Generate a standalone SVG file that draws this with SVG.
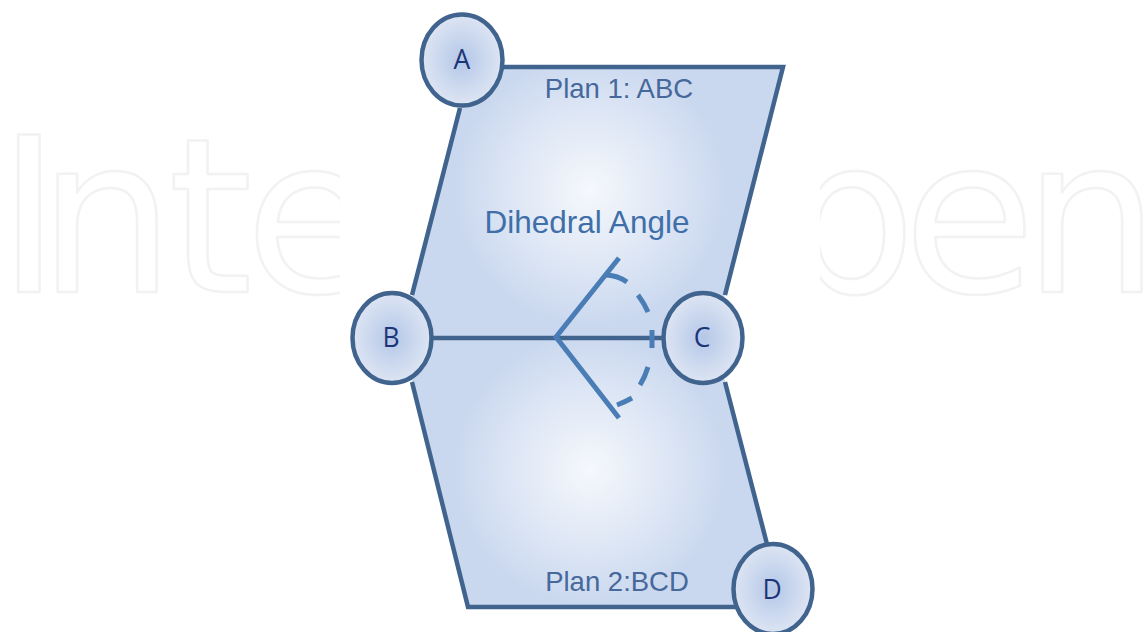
<svg xmlns="http://www.w3.org/2000/svg" width="1143" height="632" viewBox="0 0 1143 632">
<style>
.wm{font-family:"DejaVu Sans",sans-serif;font-size:216px;fill:#fff;stroke:#f2f2f2;stroke-width:2.500;stroke-linejoin:round}
.plane{stroke:none}
.edge{fill:none;stroke:#41648f;stroke-width:4.500;stroke-linejoin:miter}
.angle{fill:none;stroke:#4a7db5;stroke-width:5}
.node{fill:url(#nodeFill);stroke:#41648f;stroke-width:4.500}
.nl{font-family:"Open Sans","Noto Sans",sans-serif;font-size:26.500px;fill:#1c3578;text-anchor:middle}
.pl{font-family:"Liberation Sans",Arial,sans-serif;font-size:27.500px;fill:#46689a;text-anchor:middle}
</style>
<defs>
<radialGradient id="planeTop" gradientUnits="userSpaceOnUse" cx="590" cy="190" r="135">
<stop offset="0" stop-color="#f5f8fc"/><stop offset="0.5" stop-color="#e1e9f6"/><stop offset="1" stop-color="#cad8ef"/>
</radialGradient>
<radialGradient id="planeBot" gradientUnits="userSpaceOnUse" cx="590" cy="470" r="135">
<stop offset="0" stop-color="#f5f8fc"/><stop offset="0.5" stop-color="#e1e9f6"/><stop offset="1" stop-color="#cad8ef"/>
</radialGradient>
<radialGradient id="nodeFill">
<stop offset="0" stop-color="#b4c7e8"/><stop offset="1" stop-color="#dde5f3"/>
</radialGradient>
<clipPath id="wmL"><rect x="0" y="100" width="340" height="260"/></clipPath>
<clipPath id="wmR"><rect x="820" y="100" width="323" height="260"/></clipPath>
</defs>
<g id="watermark">
<text class="wm" clip-path="url(#wmL)" x="-3 38 168 245" y="292">Inte</text>
<text class="wm" clip-path="url(#wmR)" x="779 903 1023" y="292">pen</text>
</g>
<g id="planes">
<path class="plane" fill="url(#planeTop)" d="M470,67H783L714,338H401Z"/>
<path class="plane" fill="url(#planeBot)" d="M401,338H714L783,607H468Z"/>
<path class="edge" d="M412,295L460,108M470,67H783L725,295M725,382L768,548M412,382L468,607H745"/>
</g>
<g id="connectors">
<path class="edge" d="M432,338H663"/>
<path class="angle" d="M619,258L556,337L619,418"/>
<path class="angle" d="M605,275Q617,275 627,282M638,295Q644,303 648,312M652,330V348M648,367Q645,377 640,385M632,398Q625,402 617,405"/>
</g>
<g id="node-A"><ellipse class="node" cx="462" cy="60" rx="40.500" ry="45.500"/><text class="nl" x="462" y="69">A</text></g>
<g id="node-B"><ellipse class="node" cx="392" cy="338" rx="39.500" ry="45"/><text class="nl" x="391" y="347">B</text></g>
<g id="node-C"><ellipse class="node" cx="703" cy="338" rx="39.500" ry="45"/><text class="nl" x="702" y="347">C</text></g>
<g id="node-D"><ellipse class="node" cx="773" cy="589" rx="39.500" ry="45"/><text class="nl" x="772" y="599">D</text></g>
<g id="labels">
<text class="pl" x="619" y="98">Plan 1: ABC</text>
<text class="pl" x="617" y="591">Plan 2:BCD</text>
<text class="pl" x="587" y="233" style="font-size:31.500px;fill:#3f6fa8">Dihedral Angle</text>
</g>
</svg>
